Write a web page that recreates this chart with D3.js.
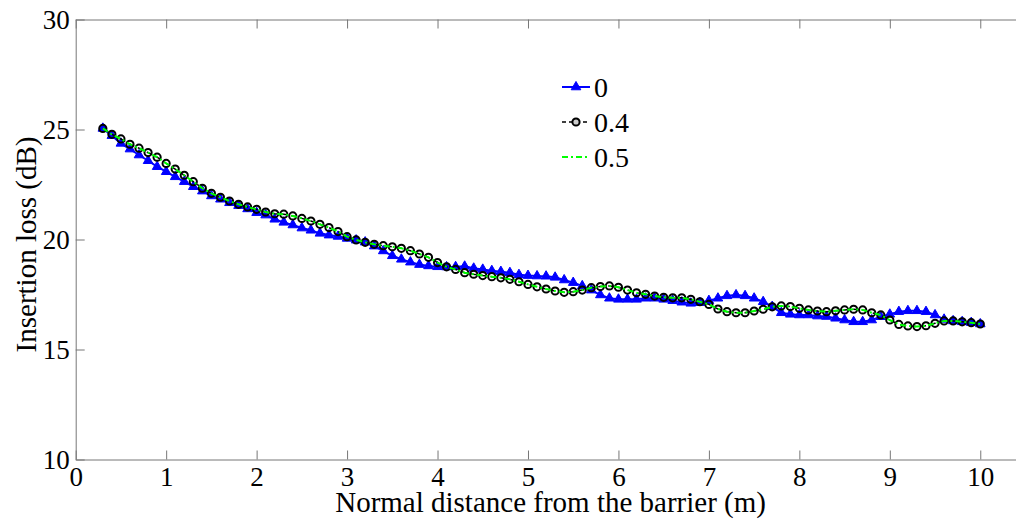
<!DOCTYPE html>
<html lang="en">

<head>
    <meta charset="UTF-8">
    <title>Insertion loss</title>
    <script src="https://cdn.jsdelivr.net/npm/d3@7/dist/d3.min.js"></script>
    <style>
        body {
            margin: 0;
            background: #fff;
        }

        svg {
            display: block;
            font-family: "Liberation Serif", "Times New Roman", serif;
        }
    </style>
</head>

<body>
    <svg width="1016" height="520"></svg>
    <script>
        // 横坐标 (m)
        var distance = [0.3, 0.4, 0.5, 0.6, 0.7, 0.8, 0.9, 1.0, 1.1, 1.2, 1.3, 1.4, 1.5, 1.6, 1.7, 1.8, 1.9, 2.0,
            2.1, 2.2, 2.3, 2.4, 2.5, 2.6, 2.7, 2.8, 2.9, 3.0, 3.1, 3.2, 3.3, 3.4, 3.5, 3.6, 3.7, 3.8, 3.9, 4.0,
            4.1, 4.2, 4.3, 4.4, 4.5, 4.6, 4.7, 4.8, 4.9, 5.0, 5.1, 5.2, 5.3, 5.4, 5.5, 5.6, 5.7, 5.8, 5.9, 6.0,
            6.1, 6.2, 6.3, 6.4, 6.5, 6.6, 6.7, 6.8, 6.9, 7.0, 7.1, 7.2, 7.3, 7.4, 7.5, 7.6, 7.7, 7.8, 7.9, 8.0,
            8.1, 8.2, 8.3, 8.4, 8.5, 8.6, 8.7, 8.8, 8.9, 9.0, 9.1, 9.2, 9.3, 9.4, 9.5, 9.6, 9.7, 9.8, 9.9, 10.0
        ];

        // 系数 0
        var loss0 = [25.05, 24.72, 24.37, 24.11, 23.84, 23.58, 23.31, 23.08, 22.85, 22.63, 22.4, 22.2, 21.98,
            21.83, 21.67, 21.54, 21.39, 21.22, 21.11, 20.92, 20.78, 20.66, 20.52, 20.42, 20.28, 20.2, 20.14,
            20.05, 19.97, 19.88, 19.7, 19.48, 19.26, 19.1, 18.97, 18.86, 18.8, 18.76, 18.75, 18.76, 18.78,
            18.69, 18.64, 18.58, 18.54, 18.49, 18.4, 18.36, 18.34, 18.33, 18.28, 18.16, 18.04, 17.89, 17.7,
            17.48, 17.33, 17.28, 17.28, 17.28, 17.33, 17.33, 17.28, 17.22, 17.15, 17.1, 17.13, 17.22, 17.33,
            17.44, 17.48, 17.44, 17.33, 17.17, 16.95, 16.67, 16.6, 16.57, 16.57, 16.52, 16.5, 16.42, 16.34,
            16.26, 16.26, 16.34, 16.49, 16.6, 16.72, 16.76, 16.76, 16.72, 16.57, 16.37, 16.3, 16.26, 16.22, 16.16
        ];

        // 系数 0.4
        var loss04 = [25.05, 24.78, 24.57, 24.33, 24.15, 23.95, 23.74, 23.46, 23.2, 22.92, 22.63, 22.33, 22.1,
            21.92, 21.75, 21.6, 21.48, 21.37, 21.25, 21.17, 21.15, 21.07, 20.96, 20.84, 20.69, 20.54, 20.36,
            20.13, 19.98, 19.87, 19.78, 19.72, 19.67, 19.6, 19.49, 19.34, 19.19, 18.95, 18.76, 18.64, 18.49,
            18.42, 18.36, 18.31, 18.26, 18.19, 18.08, 17.96, 17.85, 17.75, 17.66, 17.6, 17.63, 17.7, 17.81,
            17.86, 17.89, 17.83, 17.7, 17.58, 17.51, 17.43, 17.37, 17.35, 17.35, 17.28, 17.17, 17.05, 16.84,
            16.72, 16.67, 16.67, 16.75, 16.83, 16.94, 16.98, 16.95, 16.87, 16.8, 16.75, 16.72, 16.76, 16.8,
            16.83, 16.8, 16.67, 16.57, 16.34, 16.14, 16.07, 16.04, 16.08, 16.19, 16.3, 16.3, 16.26, 16.22, 16.16
        ];

        // 系数 0.5 (与 0.4 重合)
        var loss05 = loss04.slice();

        var xTicks = [0, 1, 2, 3, 4, 5, 6, 7, 8, 9, 10];
        var yTicks = [10, 15, 20, 25, 30];
        var legendNames = ['0', '0.4', '0.5'];

        var svg = d3.select('svg');

        var x = d3.scaleLinear().domain([0, 10.5]).range([75.7, 1025.5]);
        var y = d3.scaleLinear().domain([10, 30]).range([459.5, 19.5]);

        var axisColor = '#777';
        var tickFont = 27;
        var titleFont = 29;

        // 坐标轴
        var xAxis = svg.append('g')
            .attr('transform', 'translate(0,' + y(10) + ')')
            .call(d3.axisBottom(x).tickValues(xTicks).tickFormat(d3.format('d'))
                .tickSizeInner(-9).tickSizeOuter(0).tickPadding(7));

        var xTop = svg.append('g')
            .attr('transform', 'translate(0,' + y(30) + ')')
            .call(d3.axisTop(x).tickValues(xTicks).tickFormat('')
                .tickSizeInner(-9).tickSizeOuter(0));

        var yAxis = svg.append('g')
            .attr('transform', 'translate(' + x(0) + ',0)')
            .call(d3.axisLeft(y).tickValues(yTicks).tickFormat(d3.format('d'))
                .tickSizeInner(-9).tickSizeOuter(0).tickPadding(6));

        [xAxis, xTop, yAxis].forEach(function (g) {
            g.selectAll('path, line').attr('stroke', axisColor).attr('stroke-width', 1);
            g.selectAll('text').attr('fill', '#000')
                .style('font-size', tickFont + 'px')
                .style('font-family', '"Liberation Serif", serif');
        });
        yAxis.selectAll('text').attr('dy', '0.34em');

        // 轴标题
        svg.append('text')
            .attr('x', (x(0) + x(10.5)) / 2)
            .attr('y', 512)
            .attr('text-anchor', 'middle')
            .style('font-size', titleFont + 'px')
            .text('Normal distance from the barrier (m)');

        svg.append('text')
            .attr('transform', 'translate(36,' + ((y(10) + y(30)) / 2 + 5) + ') rotate(-90)')
            .attr('text-anchor', 'middle')
            .style('font-size', titleFont + 'px')
            .text('Insertion loss (dB)');

        var plot = svg.append('g');

        function pts(values) {
            return distance.map(function (d, i) {
                return [d, values[i]];
            });
        }

        var line = d3.line()
            .x(function (d) { return x(d[0]); })
            .y(function (d) { return y(d[1]); });

        var triangle = d3.symbol().type(d3.symbolTriangle).size(40);

        // 0
        plot.append('path')
            .attr('d', line(pts(loss0)))
            .attr('fill', 'none')
            .attr('stroke', '#0000ff')
            .attr('stroke-width', 2);

        plot.append('g').selectAll('path')
            .data(pts(loss0))
            .enter().append('path')
            .attr('d', triangle)
            .attr('transform', function (d) {
                return 'translate(' + x(d[0]) + ',' + y(d[1]) + ')';
            })
            .attr('fill', '#0000ff')
            .attr('stroke', '#0000ff')
            .attr('stroke-width', 1);

        // 0.4
        plot.append('path')
            .attr('d', line(pts(loss04)))
            .attr('fill', 'none')
            .attr('stroke', '#000')
            .attr('stroke-width', 1.5)
            .attr('stroke-dasharray', '6,4');

        plot.append('g').selectAll('circle')
            .data(pts(loss04))
            .enter().append('circle')
            .attr('cx', function (d) { return x(d[0]); })
            .attr('cy', function (d) { return y(d[1]); })
            .attr('r', 3.6)
            .attr('fill', 'none')
            .attr('stroke', '#000')
            .attr('stroke-width', 2);

        // 0.5
        plot.append('path')
            .attr('d', line(pts(loss05)))
            .attr('fill', 'none')
            .attr('stroke', '#00ff00')
            .attr('stroke-width', 2)
            .attr('stroke-dasharray', '6,3,2,3');

        // 图例
        var legend = svg.append('g');
        var rowY = [87, 122, 157];

        legend.append('line')
            .attr('x1', 562).attr('x2', 590).attr('y1', rowY[0]).attr('y2', rowY[0])
            .attr('stroke', '#0000ff').attr('stroke-width', 2);
        legend.append('path')
            .attr('d', triangle)
            .attr('transform', 'translate(576,' + rowY[0] + ')')
            .attr('fill', '#0000ff').attr('stroke', '#0000ff');

        legend.append('line')
            .attr('x1', 562).attr('x2', 590).attr('y1', rowY[1]).attr('y2', rowY[1])
            .attr('stroke', '#000').attr('stroke-width', 1.5).attr('stroke-dasharray', '4,3');
        legend.append('circle')
            .attr('cx', 576).attr('cy', rowY[1]).attr('r', 3.6)
            .attr('fill', '#ccc').attr('stroke', '#000').attr('stroke-width', 2);

        legend.append('line')
            .attr('x1', 562).attr('x2', 590).attr('y1', rowY[2]).attr('y2', rowY[2])
            .attr('stroke', '#00ff00').attr('stroke-width', 2).attr('stroke-dasharray', '6,3,2,3');

        legend.selectAll('text')
            .data(legendNames)
            .enter().append('text')
            .attr('x', 594)
            .attr('y', function (d, i) { return rowY[i] + 10; })
            .style('font-size', '28px')
            .text(function (d) { return d; });
    </script>
</body>

</html>
